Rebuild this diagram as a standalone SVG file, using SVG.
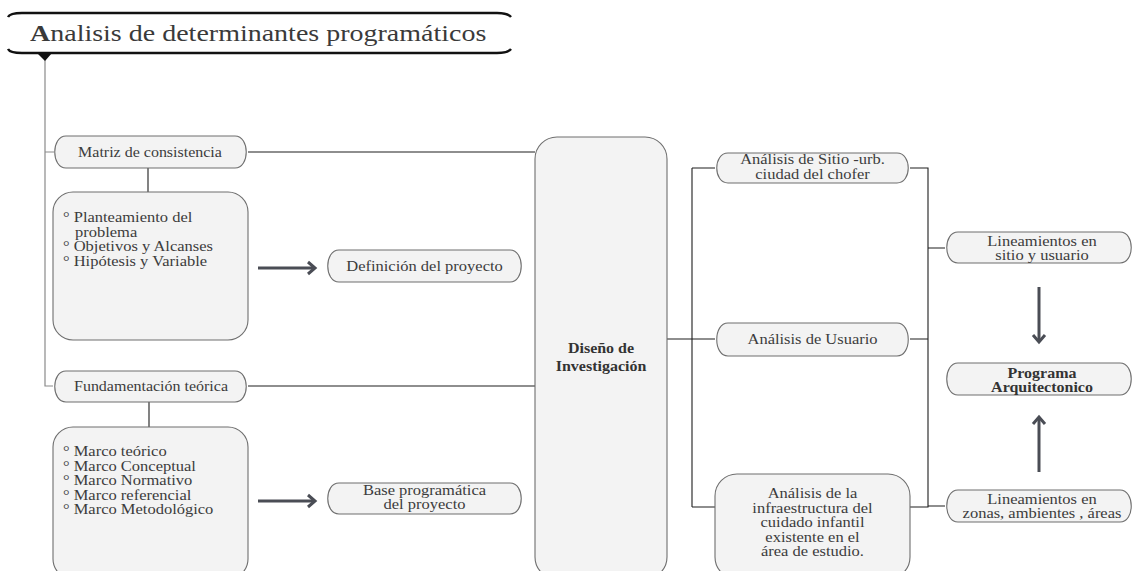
<svg xmlns="http://www.w3.org/2000/svg" width="1134" height="571" viewBox="0 0 1134 571">
<style>
.pill{fill:#f3f3f3;stroke:#6e6e6e;stroke-width:1.1}
.box{fill:#f3f3f3;stroke:#6e6e6e;stroke-width:1.1}
.t{font-family:"Liberation Serif","Times New Roman",serif;font-size:16.5px;fill:#3c3c3c}
.s{font-size:16px}
.c{text-anchor:middle}
.b{font-weight:bold;fill:#333}
.ln{fill:none;stroke:#1e1e1e;stroke-width:1.1}
.trunk{fill:none;stroke:#8a8a8a;stroke-width:1.2}
.arr{fill:none;stroke:#4a4d55;stroke-width:3}
</style>
<defs>
<marker id="ah" markerUnits="userSpaceOnUse" markerWidth="16" markerHeight="16" refX="10" refY="8" orient="auto">
<path d="M3,2 L10,8 L3,14" fill="none" stroke="#4a4d55" stroke-width="3"/>
</marker>
</defs>

<g id="connectors">
<path class="trunk" d="M45,60 V386 H53 M45,152 H54"/>
<path class="ln" d="M248,152 H535 M248,386 H535"/>
<path class="ln" d="M148,168 V192 M149,402 V427"/>
<path class="ln" d="M667,339 H715 M692,168 V507 M692,168 H715 M692,507 H715"/>
<path class="ln" d="M910,168 H928 V507 H910 M910,339 H928 M928,248 H945 M928,506 H945"/>
<path class="arr" d="M258,268 H315" marker-end="url(#ah)"/>
<path class="arr" d="M258,501 H315" marker-end="url(#ah)"/>
<path class="arr" d="M1039,287 V342" marker-end="url(#ah)"/>
<path class="arr" d="M1039,472 V417" marker-end="url(#ah)"/>
</g>

<g id="title">
<path d="M8,17 Q10,13 22,13 H497 Q508,13 511,17" fill="none" stroke="#111" stroke-width="2.5"/>
<path d="M8,49 Q10,53 22,53 H497 Q508,53 511,49" fill="none" stroke="#111" stroke-width="2.5"/>
<path d="M37,53 H52 L45,61 Z" fill="#111"/>
<text transform="translate(30,41) scale(1,0.86)" style="font-family:'Liberation Serif','Times New Roman',serif;font-size:28px;fill:#3a3a3a"><tspan font-weight="bold">A</tspan>nalisis de determinantes programáticos</text>
</g>

<g id="matriz">
<path class="pill" d="M66,136 H235 C250,136 250,168 235,168 H66 C51,168 51,136 66,136 Z"/>
<text class="t s c" transform="translate(150,157) scale(1,0.86)">Matriz de consistencia</text>
</g>

<g id="planteamiento">
<rect class="box" x="53" y="192" width="195" height="148" rx="20"/>
<text class="t" transform="translate(63,222) scale(1,0.86)">° Planteamiento del</text>
<text class="t" transform="translate(75,236.5) scale(1,0.86)">problema</text>
<text class="t" transform="translate(63,251) scale(1,0.86)">° Objetivos y Alcanses</text>
<text class="t" transform="translate(63,265.5) scale(1,0.86)">° Hipótesis y Variable</text>
</g>

<g id="definicion">
<path class="pill" d="M339,250 H510 C525,250 525,282 510,282 H339 C324,282 324,250 339,250 Z"/>
<text class="t c" transform="translate(424.5,271) scale(1,0.86)">Definición del proyecto</text>
</g>

<g id="fundamentacion">
<path class="pill" d="M66,371 H235 C250,371 250,402 235,402 H66 C51,402 51,371 66,371 Z"/>
<text class="t s c" transform="translate(151,391) scale(1,0.86)">Fundamentación teórica</text>
</g>

<g id="marcos">
<rect class="box" x="53" y="427" width="195" height="152" rx="20"/>
<text class="t" transform="translate(63,456) scale(1,0.86)">° Marco teórico</text>
<text class="t" transform="translate(63,470.5) scale(1,0.86)">° Marco Conceptual</text>
<text class="t" transform="translate(63,485) scale(1,0.86)">° Marco Normativo</text>
<text class="t" transform="translate(63,499.5) scale(1,0.86)">° Marco referencial</text>
<text class="t" transform="translate(63,514) scale(1,0.86)">° Marco Metodológico</text>
</g>

<g id="base">
<path class="pill" d="M339,483 H510 C525,483 525,514 510,514 H339 C324,514 324,483 339,483 Z"/>
<text class="t c" transform="translate(424.5,494.5) scale(1,0.86)">Base programática</text>
<text class="t c" transform="translate(424.5,509) scale(1,0.86)">del proyecto</text>
</g>

<g id="diseno">
<rect class="box" x="535" y="137" width="132" height="442" rx="22"/>
<text class="t s c b" transform="translate(601,353) scale(1,0.86)">Diseño de</text>
<text class="t s c b" transform="translate(601,371) scale(1,0.86)">Investigación</text>
</g>

<g id="sitio">
<path class="pill" d="M728,153 H897 C912,153 912,183 897,183 H728 C713,183 713,153 728,153 Z"/>
<text class="t c" transform="translate(812.5,164) scale(1,0.86)">Análisis de Sitio -urb.</text>
<text class="t c" transform="translate(812.5,178.5) scale(1,0.86)">ciudad del chofer</text>
</g>

<g id="usuario">
<path class="pill" d="M728,323 H897 C912,323 912,356 897,356 H728 C713,356 713,323 728,323 Z"/>
<text class="t c" transform="translate(812.5,344) scale(1,0.86)">Análisis de Usuario</text>
</g>

<g id="infraestructura">
<rect class="box" x="715" y="474" width="195" height="105" rx="22"/>
<text class="t c" transform="translate(812.5,498) scale(1,0.86)">Análisis de la</text>
<text class="t c" transform="translate(812.5,512.5) scale(1,0.86)">infraestructura del</text>
<text class="t c" transform="translate(812.5,527) scale(1,0.86)">cuidado infantil</text>
<text class="t c" transform="translate(812.5,541.5) scale(1,0.86)">existente en el</text>
<text class="t c" transform="translate(812.5,556) scale(1,0.86)">área de estudio.</text>
</g>

<g id="lineamientos1">
<path class="pill" d="M958,232 H1120 C1135,232 1135,263 1120,263 H958 C943,263 943,232 958,232 Z"/>
<text class="t c" transform="translate(1042,245.5) scale(1,0.86)">Lineamientos en</text>
<text class="t c" transform="translate(1042,260) scale(1,0.86)">sitio y usuario</text>
</g>

<g id="programa">
<path class="pill" d="M958,363 H1120 C1135,363 1135,395 1120,395 H958 C943,395 943,363 958,363 Z"/>
<text class="t s c b" transform="translate(1042,377.5) scale(1,0.86)">Programa</text>
<text class="t s c b" transform="translate(1042,392) scale(1,0.86)">Arquitectonico</text>
</g>

<g id="lineamientos2">
<path class="pill" d="M958,490 H1120 C1135,490 1135,522 1120,522 H958 C943,522 943,490 958,490 Z"/>
<text class="t c" transform="translate(1042,503.5) scale(1,0.86)">Lineamientos en</text>
<text class="t c" transform="translate(1042,518) scale(1,0.86)">zonas, ambientes , áreas</text>
</g>
</svg>
